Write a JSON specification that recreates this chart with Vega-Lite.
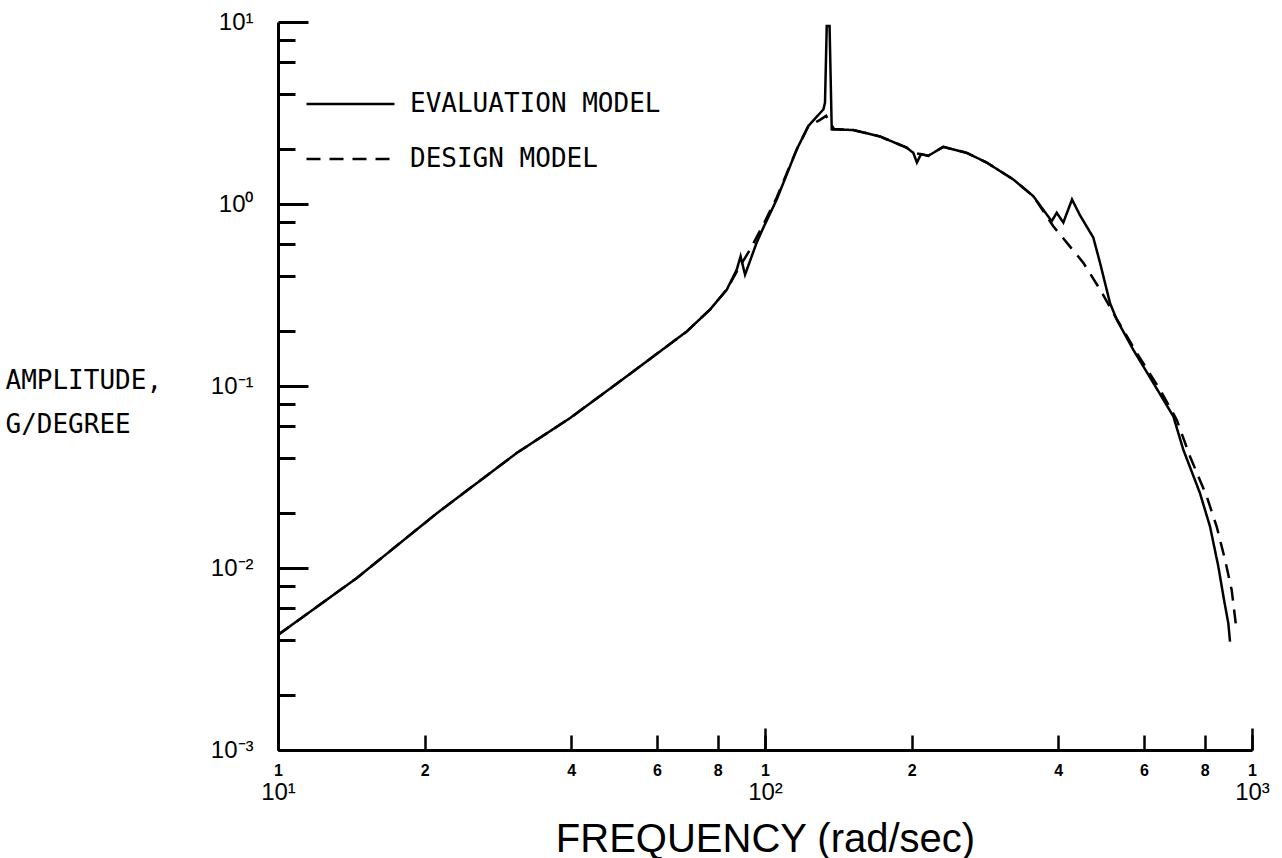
{
  "$schema": "https://vega.github.io/schema/vega-lite/v6.json",
  "width": 974,
  "height": 728,
  "autosize": {"type": "none"},
  "padding": {"left": 278, "top": 22, "right": 30, "bottom": 108},
  "background": "white",
  "config": {"view": {"stroke": null}},
  "datasets": {
    "curves": [
      {"f": 10, "a": 0.00429, "m": "EVALUATION MODEL"},
      {"f": 14.5, "a": 0.00879, "m": "EVALUATION MODEL"},
      {"f": 21.2, "a": 0.0200, "m": "EVALUATION MODEL"},
      {"f": 30.9, "a": 0.0428, "m": "EVALUATION MODEL"},
      {"f": 39.8, "a": 0.0667, "m": "EVALUATION MODEL"},
      {"f": 52.0, "a": 0.113, "m": "EVALUATION MODEL"},
      {"f": 69.1, "a": 0.1995, "m": "EVALUATION MODEL"},
      {"f": 77.1, "a": 0.263, "m": "EVALUATION MODEL"},
      {"f": 83.5, "a": 0.339, "m": "EVALUATION MODEL"},
      {"f": 87.5, "a": 0.436, "m": "EVALUATION MODEL"},
      {"f": 89.1, "a": 0.516, "m": "EVALUATION MODEL"},
      {"f": 91.0, "a": 0.409, "m": "EVALUATION MODEL"},
      {"f": 96.1, "a": 0.612, "m": "EVALUATION MODEL"},
      {"f": 99.2, "a": 0.740, "m": "EVALUATION MODEL"},
      {"f": 105.7, "a": 1.059, "m": "EVALUATION MODEL"},
      {"f": 116.2, "a": 1.995, "m": "EVALUATION MODEL"},
      {"f": 122.7, "a": 2.68, "m": "EVALUATION MODEL"},
      {"f": 131.8, "a": 3.31, "m": "EVALUATION MODEL"},
      {"f": 132.8, "a": 3.60, "m": "EVALUATION MODEL"},
      {"f": 133.9, "a": 9.51, "m": "EVALUATION MODEL"},
      {"f": 135.7, "a": 9.51, "m": "EVALUATION MODEL"},
      {"f": 137.1, "a": 2.57, "m": "EVALUATION MODEL"},
      {"f": 151.8, "a": 2.55, "m": "EVALUATION MODEL"},
      {"f": 172.2, "a": 2.35, "m": "EVALUATION MODEL"},
      {"f": 195.4, "a": 2.04, "m": "EVALUATION MODEL"},
      {"f": 201.6, "a": 1.91, "m": "EVALUATION MODEL"},
      {"f": 205.1, "a": 1.69, "m": "EVALUATION MODEL"},
      {"f": 209.1, "a": 1.88, "m": "EVALUATION MODEL"},
      {"f": 216.4, "a": 1.84, "m": "EVALUATION MODEL"},
      {"f": 232.3, "a": 2.06, "m": "EVALUATION MODEL"},
      {"f": 259.6, "a": 1.91, "m": "EVALUATION MODEL"},
      {"f": 285.2, "a": 1.69, "m": "EVALUATION MODEL"},
      {"f": 323.5, "a": 1.364, "m": "EVALUATION MODEL"},
      {"f": 355.6, "a": 1.104, "m": "EVALUATION MODEL"},
      {"f": 387.9, "a": 0.804, "m": "EVALUATION MODEL"},
      {"f": 397.2, "a": 0.895, "m": "EVALUATION MODEL"},
      {"f": 409.8, "a": 0.791, "m": "EVALUATION MODEL"},
      {"f": 427.0, "a": 1.059, "m": "EVALUATION MODEL"},
      {"f": 443.6, "a": 0.865, "m": "EVALUATION MODEL"},
      {"f": 472.2, "a": 0.654, "m": "EVALUATION MODEL"},
      {"f": 487.5, "a": 0.475, "m": "EVALUATION MODEL"},
      {"f": 510.9, "a": 0.286, "m": "EVALUATION MODEL"},
      {"f": 527.4, "a": 0.232, "m": "EVALUATION MODEL"},
      {"f": 570.6, "a": 0.158, "m": "EVALUATION MODEL"},
      {"f": 627.2, "a": 0.1039, "m": "EVALUATION MODEL"},
      {"f": 689.4, "a": 0.0681, "m": "EVALUATION MODEL"},
      {"f": 722.6, "a": 0.0447, "m": "EVALUATION MODEL"},
      {"f": 781.8, "a": 0.0258, "m": "EVALUATION MODEL"},
      {"f": 820.0, "a": 0.0169, "m": "EVALUATION MODEL"},
      {"f": 852.8, "a": 0.0102, "m": "EVALUATION MODEL"},
      {"f": 876.1, "a": 0.00668, "m": "EVALUATION MODEL"},
      {"f": 894.1, "a": 0.00497, "m": "EVALUATION MODEL"},
      {"f": 901.3, "a": 0.00394, "m": "EVALUATION MODEL"},
      {"f": 10, "a": 0.00429, "m": "DESIGN MODEL"},
      {"f": 14.5, "a": 0.00879, "m": "DESIGN MODEL"},
      {"f": 21.2, "a": 0.0200, "m": "DESIGN MODEL"},
      {"f": 30.9, "a": 0.0428, "m": "DESIGN MODEL"},
      {"f": 39.8, "a": 0.0667, "m": "DESIGN MODEL"},
      {"f": 52.0, "a": 0.113, "m": "DESIGN MODEL"},
      {"f": 69.1, "a": 0.1995, "m": "DESIGN MODEL"},
      {"f": 77.1, "a": 0.263, "m": "DESIGN MODEL"},
      {"f": 83.5, "a": 0.339, "m": "DESIGN MODEL"},
      {"f": 87.5, "a": 0.425, "m": "DESIGN MODEL"},
      {"f": 93.2, "a": 0.562, "m": "DESIGN MODEL"},
      {"f": 99.2, "a": 0.771, "m": "DESIGN MODEL"},
      {"f": 105.7, "a": 1.086, "m": "DESIGN MODEL"},
      {"f": 116.2, "a": 1.995, "m": "DESIGN MODEL"},
      {"f": 122.7, "a": 2.67, "m": "DESIGN MODEL"},
      {"f": 129.7, "a": 2.90, "m": "DESIGN MODEL"},
      {"f": 133.5, "a": 3.05, "m": "DESIGN MODEL"},
      {"f": 138.6, "a": 2.58, "m": "DESIGN MODEL"},
      {"f": 151.8, "a": 2.55, "m": "DESIGN MODEL"},
      {"f": 172.2, "a": 2.35, "m": "DESIGN MODEL"},
      {"f": 195.4, "a": 2.04, "m": "DESIGN MODEL"},
      {"f": 201.6, "a": 1.91, "m": "DESIGN MODEL"},
      {"f": 209.1, "a": 1.88, "m": "DESIGN MODEL"},
      {"f": 216.4, "a": 1.84, "m": "DESIGN MODEL"},
      {"f": 232.3, "a": 2.06, "m": "DESIGN MODEL"},
      {"f": 259.6, "a": 1.91, "m": "DESIGN MODEL"},
      {"f": 285.2, "a": 1.69, "m": "DESIGN MODEL"},
      {"f": 323.5, "a": 1.364, "m": "DESIGN MODEL"},
      {"f": 355.6, "a": 1.104, "m": "DESIGN MODEL"},
      {"f": 390.8, "a": 0.755, "m": "DESIGN MODEL"},
      {"f": 450.5, "a": 0.475, "m": "DESIGN MODEL"},
      {"f": 487.5, "a": 0.339, "m": "DESIGN MODEL"},
      {"f": 518.9, "a": 0.252, "m": "DESIGN MODEL"},
      {"f": 579.8, "a": 0.152, "m": "DESIGN MODEL"},
      {"f": 647.4, "a": 0.0954, "m": "DESIGN MODEL"},
      {"f": 700.4, "a": 0.0653, "m": "DESIGN MODEL"},
      {"f": 746.0, "a": 0.0410, "m": "DESIGN MODEL"},
      {"f": 807.4, "a": 0.0247, "m": "DESIGN MODEL"},
      {"f": 846.2, "a": 0.0169, "m": "DESIGN MODEL"},
      {"f": 880.4, "a": 0.01108, "m": "DESIGN MODEL"},
      {"f": 908.4, "a": 0.00758, "m": "DESIGN MODEL"},
      {"f": 926.8, "a": 0.00486, "m": "DESIGN MODEL"}
    ]
  },
  "data": {"name": "curves"},
  "layer": [
    {
      "transform": [{"filter": "datum.m == 'EVALUATION MODEL'"}],
      "mark": {"type": "line", "color": "black", "strokeWidth": 2.5, "clip": true},
      "encoding": {
        "x": {
          "field": "f", "type": "quantitative",
          "scale": {"type": "log", "domain": [10, 1000], "nice": false},
          "axis": {
            "orient": "bottom",
            "values": [10, 100, 1000],
            "labelExpr": "datum.value < 50 ? '10¹' : datum.value < 500 ? '10²' : '10³'",
            "grid": false,
            "domain": true, "domainColor": "black", "domainWidth": 3,
            "ticks": true, "tickSize": -22, "tickWidth": 2.5, "tickColor": "black",
            "labelFont": "Liberation Sans", "labelFontSize": 24, "labelColor": "black",
            "labelBaseline": "top", "labelPadding": 52, "labelFlush": false, "labelOverlap": false, "labelBound": false,
            "title": "FREQUENCY (rad/sec)",
            "titleFont": "Liberation Sans", "titleFontSize": 40, "titleFontWeight": "normal", "titleColor": "black",
            "titleX": 487, "titleY": 101, "titleAlign": "center", "titleBaseline": "alphabetic", "titleAnchor": null
          }
        },
        "y": {
          "field": "a", "type": "quantitative",
          "scale": {"type": "log", "domain": [0.001, 10], "nice": false},
          "axis": {
            "orient": "left",
            "values": [0.001, 0.01, 0.1, 1, 10],
            "labelExpr": "datum.value > 5 ? '10¹' : datum.value > 0.5 ? '10⁰' : datum.value > 0.05 ? '10⁻¹' : datum.value > 0.005 ? '10⁻²' : '10⁻³'",
            "grid": false,
            "domain": true, "domainColor": "black", "domainWidth": 3,
            "ticks": true, "tickSize": -30, "tickWidth": 3, "tickColor": "black",
            "labelFont": "Liberation Sans", "labelFontSize": 24, "labelColor": "black",
            "labelAlign": "right", "labelBaseline": "middle", "labelPadding": 55, "labelFlush": false, "labelOverlap": false, "labelBound": false,
            "title": ["AMPLITUDE,", "G/DEGREE"],
            "titleFont": "DejaVu Sans Mono", "titleFontSize": 26, "titleFontWeight": "normal", "titleColor": "black",
            "titleAngle": 0, "titleAlign": "left", "titleBaseline": "alphabetic", "titleLineHeight": 44,
            "titleX": -273, "titleY": 366, "titleAnchor": null
          }
        },
        "strokeDash": {
          "field": "m", "type": "nominal",
          "scale": {"domain": ["EVALUATION MODEL", "DESIGN MODEL"], "range": [[1, 0], [14, 9]]},
          "legend": {
            "orient": "none", "legendX": 27, "legendY": 67, "title": null, "padding": 0,
            "symbolType": "stroke", "symbolSize": 7744, "symbolStrokeWidth": 2.5, "symbolStrokeColor": "black",
            "clipHeight": 30, "rowPadding": 25, "labelOffset": 14,
            "labelFont": "DejaVu Sans Mono", "labelFontSize": 26, "labelColor": "black", "labelLimit": 400
          }
        }
      }
    },
    {
      "transform": [{"filter": "datum.m == 'DESIGN MODEL'"}],
      "mark": {"type": "line", "color": "black", "strokeWidth": 2.5, "clip": true, "strokeCap": "butt"},
      "encoding": {
        "x": {
          "field": "f", "type": "quantitative",
          "scale": {"type": "log", "domain": [10, 1000], "nice": false},
          "axis": {
            "orient": "bottom",
            "values": [10, 20, 40, 60, 80, 100, 200, 400, 600, 800, 1000],
            "labelExpr": "substring(toString(datum.value), 0, 1)",
            "grid": false, "domain": false,
            "ticks": true, "tickSize": -15, "tickWidth": 2.5, "tickColor": "black",
            "labelFont": "Liberation Sans", "labelFontSize": 16, "labelFontWeight": "bold", "labelColor": "black",
            "labelBaseline": "top", "labelPadding": 27, "labelFlush": false, "labelOverlap": false, "labelBound": false,
            "title": null
          }
        },
        "y": {
          "field": "a", "type": "quantitative",
          "scale": {"type": "log", "domain": [0.001, 10], "nice": false},
          "axis": {
            "orient": "left",
            "values": [0.002, 0.004, 0.006, 0.008, 0.02, 0.04, 0.06, 0.08, 0.2, 0.4, 0.6, 0.8, 2, 4, 6, 8],
            "grid": false, "domain": false, "labels": false,
            "ticks": true, "tickSize": -17, "tickWidth": 3, "tickColor": "black",
            "title": null
          }
        },
        "strokeDash": {"field": "m", "type": "nominal"}
      }
    }
  ],
  "resolve": {"axis": {"x": "independent", "y": "independent"}}
}
